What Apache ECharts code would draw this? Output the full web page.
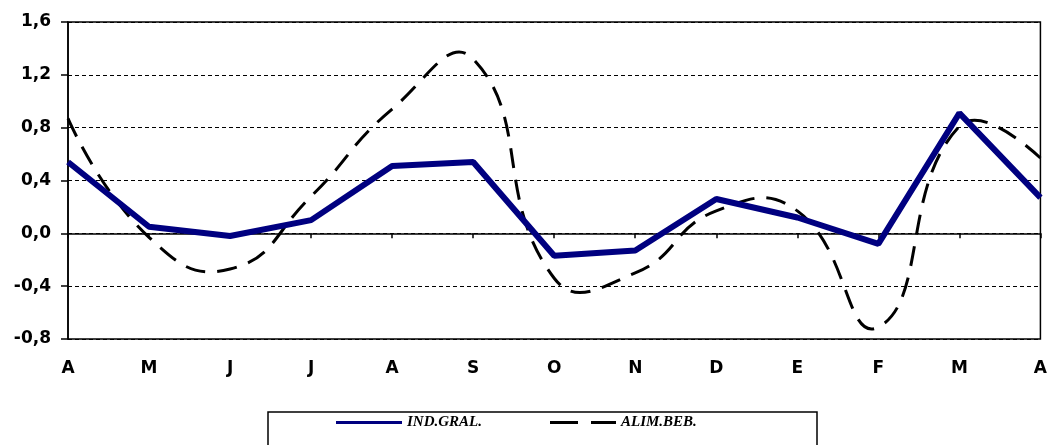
<!DOCTYPE html>
<html>
<head>
<meta charset="utf-8">
<script src="https://cdn.jsdelivr.net/npm/echarts@6/dist/echarts.min.js"></script>
<style>
  html, body { margin: 0; padding: 0; background: #fff; }
  #chart { width: 1050px; height: 445px; }
</style>
</head>
<body>
<div id="chart"></div>
<script>
// meses (abril a abril)
const months = ['A', 'M', 'J', 'J', 'A', 'S', 'O', 'N', 'D', 'E', 'F', 'M', 'A']
const indGral = [0.54, 0.05, -0.02, 0.10, 0.51, 0.54, -0.17, -0.13, 0.26, 0.12, -0.08, 0.91, 0.27]
const alimBeb = [0.87, -0.03, -0.27, 0.28, 0.94, 1.32, -0.34, -0.30, 0.17, 0.17, -0.71, 0.81, 0.57]
const yTicks = { min: -0.8, max: 1.6, step: 0.4 }

const chart = echarts.init(document.getElementById('chart'))

const axisFont = {
  fontFamily: 'DejaVu Sans',
  fontWeight: 'bold',
  fontSize: 17,
  color: '#000',
}

// linea suavizada tipo excel (sin recorte de los puntos de control)
function renderSmooth(params, api) {
  if (params.dataIndex !== 0) return
  const pts = alimBeb.map((v, i) => api.coord([i, v]))
  return {
    type: 'polyline',
    shape: { points: pts, smooth: 0.5 },
    style: { stroke: '#000', lineWidth: 3, lineDash: [20, 12], fill: null },
  }
}

const option = {
  animation: false,
  backgroundColor: '#fff',
  grid: {
    left: 68,
    right: 9,
    top: 22,
    bottom: 106,
    show: true,
    borderColor: '#000',
    borderWidth: 1.5,
  },
  legend: {
    left: 336,
    top: 415,
    padding: 0,
    itemGap: 68,
    itemWidth: 66,
    itemHeight: 3,
    textStyle: {
      fontFamily: 'Liberation Serif',
      fontStyle: 'italic',
      fontWeight: 'bold',
      fontSize: 15,
      color: '#000',
    },
    data: [
      { name: 'IND.GRAL.', icon: 'rect', itemStyle: { color: '#000080' } },
      {
        name: 'ALIM.BEB.',
        icon: 'path://M0,0h28v3h-28z M41,0h25v3h-25z',
        itemStyle: { color: '#000' },
      },
    ],
  },
  graphic: [
    {
      type: 'rect',
      shape: { x: 268, y: 412, width: 549, height: 60 },
      style: { fill: 'none', stroke: '#000', lineWidth: 1.5 },
      silent: true,
    },
  ],
  xAxis: {
    type: 'category',
    data: months,
    boundaryGap: false,
    axisLine: { lineStyle: { color: '#000', width: 1.5 } },
    axisTick: { show: true, length: 5, lineStyle: { color: '#000', width: 1.5 } },
    axisLabel: Object.assign({ margin: 21, interval: 0 }, axisFont),
    splitLine: { show: false },
  },
  yAxis: {
    type: 'value',
    min: yTicks.min,
    max: yTicks.max,
    interval: yTicks.step,
    axisLine: { show: true, lineStyle: { color: '#000', width: 1.5 } },
    axisTick: { show: true, length: 7, lineStyle: { color: '#000', width: 1.5 } },
    axisLabel: Object.assign({
      margin: 17,
      formatter: (v) => v.toFixed(1).replace('.', ','),
    }, axisFont),
    splitLine: {
      show: true,
      lineStyle: { color: '#000', width: 1, type: [4, 3] },
    },
  },
  series: [
    {
      name: 'IND.GRAL.',
      type: 'line',
      data: indGral,
      symbol: 'none',
      lineStyle: { color: '#000080', width: 6 },
      itemStyle: { color: '#000080' },
      z: 3,
    },
    {
      name: 'ALIM.BEB.',
      type: 'custom',
      data: alimBeb.map((v, i) => [i, v]),
      encode: { x: 0, y: 1 },
      renderItem: renderSmooth,
      itemStyle: { color: '#000' },
      z: 2,
    },
  ],
}

chart.setOption(option)
</script>
</body>
</html>
